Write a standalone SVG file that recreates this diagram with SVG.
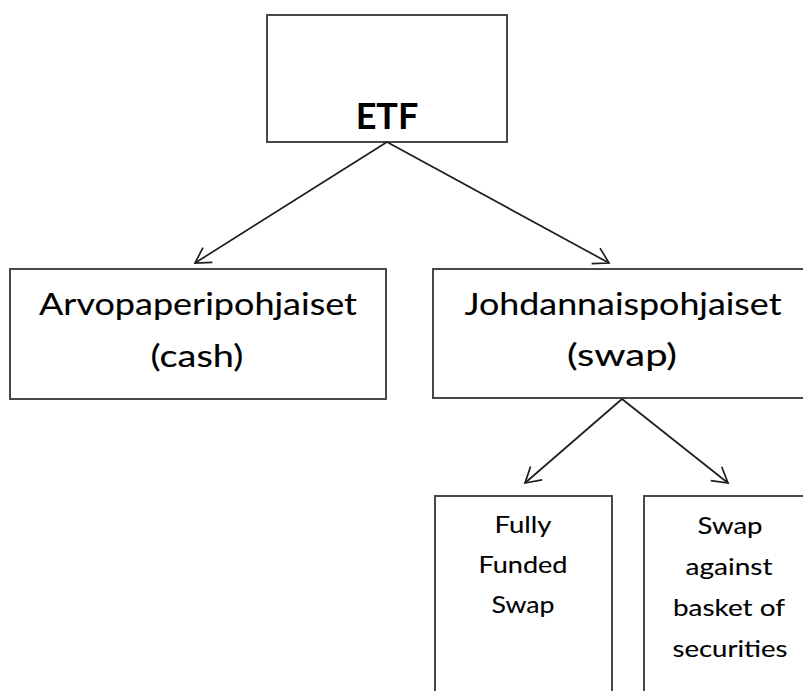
<svg xmlns="http://www.w3.org/2000/svg" width="803" height="691" viewBox="0 0 803 691">
<style>
.box{fill:#fff;stroke:#484848;stroke-width:2}
.t{font-family:Lato,"Open Sans","Liberation Sans",sans-serif;fill:#000;stroke:#000;stroke-width:0.12;text-anchor:middle}
.big{font-size:31px}
.sm{font-size:24px}
.conn line{stroke:#1e1e1e;stroke-width:1.7;marker-end:url(#arr)}
</style>
<defs>
<marker id="arr" viewBox="-17 -10 19 20" refX="0" refY="0" markerWidth="19" markerHeight="20" markerUnits="userSpaceOnUse" orient="auto">
<path d="M-15,-8.8 L0,0 L-15,8.8" fill="none" stroke="#1e1e1e" stroke-width="1.7"/>
</marker>
</defs>
<rect width="803" height="691" fill="#fff"/>
<g id="etf">
<rect class="box" x="267" y="15" width="240" height="127"/>
<text x="387" y="129" font-family="Lato,'Open Sans',sans-serif" font-size="36" font-weight="bold" fill="#000" text-anchor="middle">ETF</text>
</g>
<g id="cash">
<rect class="box" x="10" y="269" width="376" height="130"/>
<text class="t big" x="198" y="315" textLength="318" lengthAdjust="spacingAndGlyphs">Arvopaperipohjaiset</text>
<text class="t big" x="197" y="367" textLength="93" lengthAdjust="spacingAndGlyphs">(cash)</text>
</g>
<g id="swap">
<rect class="box" x="433" y="269" width="390" height="129"/>
<text class="t big" x="623" y="315" textLength="317" lengthAdjust="spacingAndGlyphs">Johdannaispohjaiset</text>
<text class="t big" x="622" y="366" textLength="110" lengthAdjust="spacingAndGlyphs">(swap)</text>
</g>
<g id="fully">
<rect class="box" x="435" y="496" width="177" height="210"/>
<text class="t sm" x="523" y="533" textLength="57" lengthAdjust="spacingAndGlyphs">Fully</text>
<text class="t sm" x="523" y="573" textLength="89" lengthAdjust="spacingAndGlyphs">Funded</text>
<text class="t sm" x="523" y="613" textLength="63" lengthAdjust="spacingAndGlyphs">Swap</text>
</g>
<g id="basket">
<rect class="box" x="644" y="496" width="180" height="210"/>
<text class="t sm" x="730" y="534" textLength="65" lengthAdjust="spacingAndGlyphs">Swap</text>
<text class="t sm" x="729" y="575" textLength="87" lengthAdjust="spacingAndGlyphs">against</text>
<text class="t sm" x="729" y="616" textLength="112" lengthAdjust="spacingAndGlyphs">basket of</text>
<text class="t sm" x="730" y="657" textLength="115" lengthAdjust="spacingAndGlyphs">securities</text>
</g>
<g id="connectors" class="conn">
<line x1="387" y1="142" x2="195" y2="263"/>
<line x1="387" y1="142" x2="609" y2="263"/>
<line x1="622" y1="399" x2="525" y2="483"/>
<line x1="622" y1="399" x2="728" y2="483"/>
</g>
</svg>
